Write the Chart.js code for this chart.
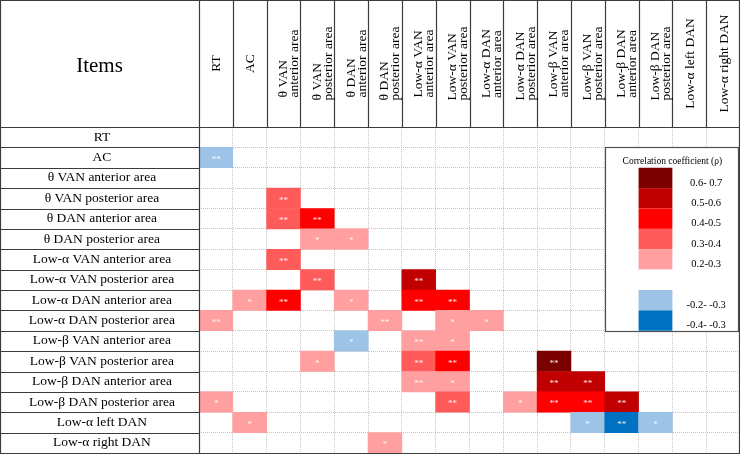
<!DOCTYPE html>
<html>
<head>
<meta charset="utf-8">
<script src="https://cdn.jsdelivr.net/npm/chart.js@4.4.1/dist/chart.umd.min.js"></script>
<style>
  html, body { margin: 0; padding: 0; background: #fff; }
  canvas { display: block; }
</style>
</head>
<body>
<canvas id="matrix" width="740" height="455"></canvas>
<script>
const rowLabels = [
  "RT", "AC", "θ VAN anterior area", "θ VAN posterior area", "θ DAN anterior area",
  "θ DAN posterior area", "Low-α VAN anterior area", "Low-α VAN posterior area",
  "Low-α DAN anterior area", "Low-α DAN posterior area", "Low-β VAN anterior area",
  "Low-β VAN posterior area", "Low-β DAN anterior area", "Low-β DAN posterior area",
  "Low-α left DAN", "Low-α right DAN"
];
const colLabels = [
  ["RT"], ["AC"], ["θ VAN", "anterior area"], ["θ VAN", "posterior area"],
  ["θ DAN", "anterior area"], ["θ DAN", "posterior area"],
  ["Low-α VAN", "anterior area"], ["Low-α VAN", "posterior area"],
  ["Low-α DAN", "anterior area"], ["Low-α DAN", "posterior area"],
  ["Low-β VAN", "anterior area"], ["Low-β VAN", "posterior area"],
  ["Low-β DAN", "anterior area"], ["Low-β DAN", "posterior area"],
  ["Low-α left DAN"], ["Low-α right DAN"]
];

// significant cells: row index, column index, colour level, stars
const cellRow = [1, 3, 4, 4, 5, 5, 6, 7, 7, 8, 8, 8, 8, 8, 9, 9, 9, 9, 10, 10, 10,
  11, 11, 11, 11, 12, 12, 12, 12, 13, 13, 13, 13, 13, 13, 14, 14, 14, 14, 15];
const cellCol = [0, 2, 2, 3, 3, 4, 2, 3, 6, 1, 2, 4, 6, 7, 0, 5, 7, 8, 4, 6, 7,
  3, 6, 7, 10, 6, 7, 10, 11, 0, 7, 9, 10, 11, 12, 1, 11, 12, 13, 5];
const cellLevel = [6, 3, 3, 2, 4, 4, 3, 3, 1, 4, 2, 4, 2, 2, 4, 4, 4, 4, 6, 4, 4,
  4, 3, 2, 0, 4, 4, 1, 1, 4, 3, 4, 2, 2, 1, 4, 6, 7, 6, 4];
const cellSig = ["**", "**", "**", "**", "*", "*", "**", "**", "**", "*", "**", "*", "**", "**",
  "**", "**", "*", "*", "*", "**", "*", "*", "**", "**", "**", "**", "*", "**", "**",
  "*", "**", "*", "**", "**", "**", "*", "*", "**", "*", "*"];

const levelLabels = ["0.6- 0.7", "0.5-0.6", "0.4-0.5", "0.3-0.4", "0.2-0.3", "", "-0.2- -0.3", "-0.4- -0.3"];
const levelColors = ["#7b0000", "#c00000", "#ff0000", "#ff5b5b", "#ff9f9f", "#ffffff", "#9dc3e6", "#0070c0"];
const legendTitle = "Correlation coefficient (ρ)";

const SERIF = "'Liberation Serif', 'Times New Roman', serif";
const LINE = "#3c3c3c";

const cells = cellRow.map((r, i) => ({ y: rowLabels[r], x: [cellCol[i], cellCol[i] + 1] }));

const tablePlugin = {
  id: "tablePlugin",
  beforeDatasetsDraw(chart) {
    const { ctx } = chart;
    const x = chart.scales.x, y = chart.scales.y;
    const rowH = (y.bottom - y.top) / rowLabels.length;
    const left = Math.round(x.getPixelForValue(12)) + 0.5;
    const right = Math.round(x.getPixelForValue(16)) - 1.5;
    const top = Math.round(y.top + rowH) + 0.5;
    const bottom = Math.round(y.top + rowH * 10) + 0.5;
    ctx.save();
    ctx.fillStyle = "#fff";
    ctx.fillRect(left, top, right - left, bottom - top);
    ctx.strokeStyle = "#505050";
    ctx.lineWidth = 1.2;
    ctx.strokeRect(left, top, right - left, bottom - top);
    ctx.restore();
  },
  afterDatasetsDraw(chart) {
    const { ctx } = chart;
    const x = chart.scales.x, y = chart.scales.y;
    const rowH = (y.bottom - y.top) / rowLabels.length;
    ctx.save();
    // legend
    const boxL = x.getPixelForValue(12), boxR = x.getPixelForValue(16);
    ctx.fillStyle = "#000";
    ctx.font = "9.5px " + SERIF;
    ctx.textAlign = "center";
    ctx.textBaseline = "middle";
    ctx.fillText(legendTitle, (boxL + boxR) / 2, y.top + rowH * 1.68);
    levelColors.forEach((c, i) => {
      const top = y.top + rowH * (2 + i);
      ctx.fillStyle = c;
      ctx.fillRect(x.getPixelForValue(13), top, x.getPixelForValue(14) - x.getPixelForValue(13), rowH);
      ctx.fillStyle = "#000";
      ctx.font = "10.5px " + SERIF;
      ctx.fillText(levelLabels[i], x.getPixelForValue(15), top + rowH * 0.74);
    });
    // stars
    const meta = chart.getDatasetMeta(0);
    ctx.fillStyle = "rgba(255,255,255,0.9)";
    ctx.font = "9px " + SERIF;
    meta.data.forEach((bar, i) => {
      const p = bar.getCenterPoint();
      ctx.fillText(cellSig[i], p.x, p.y + 2);
    });
    ctx.restore();
  },
  afterDraw(chart) {
    const { ctx } = chart;
    const x = chart.scales.x, y = chart.scales.y;
    const rowH = (y.bottom - y.top) / rowLabels.length;
    const px = v => Math.round(v) + 0.5;
    ctx.save();
    ctx.strokeStyle = LINE;
    ctx.lineWidth = 1.2;
    ctx.beginPath();
    // header column separators
    for (let c = 0; c <= colLabels.length; c++) {
      const xx = px(x.getPixelForValue(c));
      ctx.moveTo(xx, 0);
      ctx.lineTo(xx, c === 0 ? y.bottom : y.top);
    }
    // header bottom
    ctx.moveTo(0, px(y.top));
    ctx.lineTo(x.right, px(y.top));
    // item rows
    for (let r = 1; r <= rowLabels.length; r++) {
      const yy = px(y.top + rowH * r);
      ctx.moveTo(0, yy);
      ctx.lineTo(r === rowLabels.length ? x.right : x.left, yy);
    }
    ctx.moveTo(0.5, 0);
    ctx.lineTo(0.5, y.bottom);
    ctx.moveTo(0, 0.5);
    ctx.lineTo(x.right, 0.5);
    ctx.moveTo(x.right - 0.5, 0);
    ctx.lineTo(x.right - 0.5, y.bottom);
    ctx.stroke();

    // header text
    ctx.fillStyle = "#000";
    ctx.font = "21px " + SERIF;
    ctx.textAlign = "center";
    ctx.textBaseline = "middle";
    ctx.fillText("Items", x.left / 2, 66);
    ctx.font = "13.5px " + SERIF;
    const midY = y.top / 2;
    colLabels.forEach((lines, c) => {
      const cx = x.getPixelForValue(c + 0.5);
      const cr = x.getPixelForValue(c + 1);
      if (lines.length === 1) {
        ctx.save();
        ctx.translate(cx + 1, midY);
        ctx.rotate(-Math.PI / 2);
        ctx.textAlign = "center";
        ctx.fillText(lines[0], 0, 0);
        ctx.restore();
      } else {
        const w = Math.max(...lines.map(t => ctx.measureText(t).width));
        lines.forEach((t, j) => {
          ctx.save();
          ctx.translate(cr - 6 - (lines.length - 1 - j) * 11, midY + w / 2);
          ctx.rotate(-Math.PI / 2);
          ctx.textAlign = "left";
          ctx.fillText(t, 0, 0);
          ctx.restore();
        });
      }
    });
    ctx.restore();
  }
};

const chart = new Chart(document.getElementById("matrix"), {
  type: "bar",
  data: {
    labels: rowLabels,
    datasets: [{
      data: cells,
      backgroundColor: c => levelColors[cellLevel[c.dataIndex]],
      borderWidth: 0,
      barPercentage: 1,
      categoryPercentage: 1,
    }],
  },
  options: {
    indexAxis: "y",
    responsive: false,
    animation: false,
    layout: { padding: { top: 127, bottom: 2, left: 0, right: 0 } },
    plugins: { legend: { display: false }, tooltip: { enabled: false } },
    scales: {
      x: {
        type: "linear",
        min: 0,
        max: 16,
        position: "bottom",
        ticks: { display: false, stepSize: 1 },
        grid: { color: "#c4c4c4", drawTicks: false },
        border: { display: false, dash: [1, 1] },
        afterFit: s => { s.height = 0; },
      },
      y: {
        type: "category",
        offset: true,
        ticks: {
          autoSkip: false,
          crossAlign: "center",
          padding: 24,
          color: "#000",
          font: { family: SERIF, size: 13.5 },
        },
        grid: { offset: true, color: "#c4c4c4", drawTicks: false },
        border: { display: false, dash: [1, 1] },
        afterFit: s => {
          s.width = 199;
          s.paddingTop = 0;
          s.paddingBottom = 0;
        },
      },
    },
  },
  plugins: [tablePlugin],
});
</script>
</body>
</html>
